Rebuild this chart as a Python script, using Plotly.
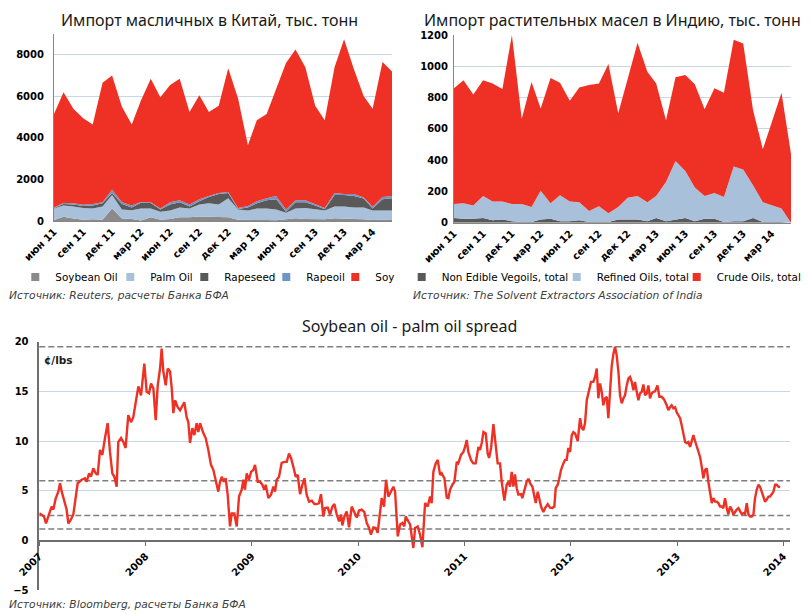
import plotly.graph_objects as go
import pandas as pd

# ---------------- data ----------------
months = pd.date_range("2011-06-01", periods=36, freq="MS")
tick_months = pd.date_range("2011-06-01", periods=12, freq="3MS")
tick_text = ["июн 11", "сен 11", "дек 11", "мар 12", "июн 12", "сен 12",
             "дек 12", "мар 13", "июн 13", "сен 13", "дек 13", "мар 14"]

# China imports, thousand tonnes (stack order bottom -> top)
china_soybean_oil = [50, 200, 120, 60, 80, 60, 600, 120, 100, 20, 180, 60,
                     100, 180, 180, 220, 200, 180, 180, 60, 40, 50, 50, 40,
                     80, 130, 100, 80, 80, 130, 100, 100, 80, 50, 60, 50]
china_palm_oil = [550, 550, 580, 560, 520, 640, 650, 430, 420, 580, 420, 390,
                  400, 470, 420, 580, 650, 620, 920, 490, 460, 550, 550, 510,
                  320, 470, 520, 470, 420, 570, 600, 550, 570, 450, 440, 450]
china_rapeseed = [20, 70, 100, 100, 150, 150, 100, 270, 130, 280, 270, 100,
                  300, 250, 100, 150, 300, 500, 250, 30, 150, 250, 400, 500,
                  50, 300, 280, 200, 60, 550, 550, 550, 430, 100, 550, 600]
china_rapeoil = [30, 50, 50, 60, 70, 50, 150, 80, 100, 40, 30, 50,
                 100, 100, 100, 100, 50, 50, 50, 40, 70, 100, 100, 150,
                 100, 100, 100, 50, 60, 100, 50, 100, 50, 80, 100, 100]
china_soy = [4500, 5330, 4550, 4170, 3830, 5750, 5500, 4600, 3900, 4880, 5950, 5350,
             5650, 5850, 4450, 5000, 4050, 4200, 5950, 5280, 2930, 3900, 4050, 5200,
             7050, 7250, 6400, 4750, 4230, 6050, 7450, 6000, 4870, 4720, 6500, 6000]

# India vegetable oil imports, thousand tonnes
india_non_edible = [30, 25, 25, 30, 15, 20, 10, 5, 5, 20, 25, 10,
                    10, 15, 5, 5, 5, 20, 20, 20, 10, 30, 10, 20,
                    30, 10, 25, 25, 5, 10, 10, 30, 5, 5, 5, 0]
india_refined = [90, 100, 85, 140, 120, 115, 110, 115, 95, 185, 100, 165,
                 125, 115, 70, 100, 55, 80, 140, 150, 120, 140, 250, 375,
                 300, 215, 145, 165, 160, 350, 330, 210, 125, 105, 85, 0]
india_crude = [740, 785, 710, 740, 755, 720, 1080, 545, 800, 525, 800, 720,
               645, 735, 805, 785, 955, 600, 760, 980, 835, 720, 395, 535,
               615, 660, 555, 670, 665, 810, 805, 480, 340, 530, 740, 440]

# Soybean oil - palm oil spread, c/lbs; time in years since 2007-01-01
spread_years = [
    0.000, 0.022, 0.044, 0.063, 0.085, 0.116, 0.132, 0.154, 0.179, 0.195,
    0.211, 0.236, 0.257, 0.273, 0.298, 0.320, 0.342, 0.361, 0.399, 0.430,
    0.446, 0.468, 0.486, 0.508, 0.530, 0.549, 0.571, 0.593, 0.618, 0.643,
    0.665, 0.687, 0.706, 0.728, 0.743, 0.769, 0.791, 0.812, 0.837, 0.863,
    0.884, 0.906, 0.932, 0.957, 0.988, 1.010, 1.032, 1.051, 1.073, 1.095,
    1.114, 1.136, 1.151, 1.167, 1.189, 1.208, 1.230, 1.246, 1.261, 1.277,
    1.302, 1.324, 1.339, 1.364, 1.386, 1.402, 1.418, 1.440, 1.459, 1.480,
    1.496, 1.512, 1.543, 1.565, 1.590, 1.615, 1.637, 1.659, 1.684, 1.700,
    1.716, 1.737, 1.753, 1.772,
    1.794, 1.810, 1.835, 1.857, 1.879, 1.904, 1.920, 1.935, 1.951, 1.973,
    1.992, 2.014, 2.029, 2.055, 2.076, 2.098, 2.117, 2.130, 2.155, 2.180,
    2.202, 2.218, 2.233, 2.255, 2.280, 2.305, 2.328, 2.349, 2.368, 2.390,
    2.412, 2.431, 2.453, 2.475, 2.494, 2.515, 2.538, 2.563, 2.588, 2.609,
    2.631, 2.650, 2.672, 2.688, 2.713, 2.735, 2.757, 2.776, 2.798, 2.820,
    2.839, 2.851, 2.870, 2.892, 2.914, 2.939, 2.964, 2.986, 3.008, 3.033,
    3.058, 3.080, 3.102, 3.120, 3.143, 3.165, 3.183, 3.205, 3.221, 3.243,
    3.262, 3.284, 3.306, 3.331, 3.347, 3.372, 3.394, 3.416, 3.434, 3.447,
    3.472, 3.488, 3.519,
    3.535, 3.560, 3.582, 3.604, 3.629, 3.654, 3.676, 3.691, 3.707, 3.729,
    3.748, 3.770, 3.785, 3.811, 3.833, 3.848, 3.864, 3.886, 3.905, 3.927,
    3.942, 3.967, 3.989, 4.005, 4.021, 4.036, 4.061, 4.083, 4.105, 4.131,
    4.146, 4.162, 4.178, 4.200, 4.218, 4.231, 4.250, 4.272, 4.294, 4.312,
    4.334, 4.350, 4.375, 4.397, 4.413, 4.428, 4.444, 4.460, 4.475, 4.491,
    4.507, 4.532, 4.544, 4.563, 4.585, 4.601, 4.617, 4.639, 4.657, 4.670,
    4.689, 4.701, 4.720, 4.742, 4.758, 4.783, 4.805, 4.827, 4.845, 4.858,
    4.877, 4.889, 4.908, 4.930, 4.946, 4.961, 4.977, 4.993, 5.009, 5.024,
    5.040, 5.065, 5.087, 5.103, 5.118, 5.134, 5.150, 5.172, 5.190, 5.212,
    5.228, 5.244, 5.259,
    5.275, 5.291, 5.306, 5.322, 5.338, 5.353, 5.369, 5.385, 5.401, 5.416,
    5.432, 5.448, 5.463, 5.479, 5.495, 5.510, 5.526, 5.542, 5.557, 5.573,
    5.589, 5.604, 5.620, 5.636, 5.651, 5.667, 5.683, 5.698, 5.714, 5.730,
    5.745, 5.761, 5.777, 5.793, 5.815, 5.833, 5.855, 5.877, 5.902, 5.918,
    5.934, 5.949, 5.965, 5.981, 5.996, 6.012, 6.028, 6.043, 6.059, 6.075,
    6.090, 6.106, 6.122, 6.137, 6.153, 6.169, 6.185, 6.200, 6.216, 6.232,
    6.247, 6.263, 6.279, 6.294, 6.310, 6.326, 6.341, 6.357, 6.373, 6.388,
    6.404, 6.420, 6.435, 6.451, 6.467, 6.482, 6.498, 6.514, 6.530, 6.545,
    6.561, 6.577, 6.592, 6.608, 6.624, 6.639, 6.655, 6.671, 6.686, 6.702,
    6.718, 6.733, 6.749, 6.765, 6.780, 6.796, 6.812, 6.827, 6.843, 6.859,
    6.874, 6.890, 6.906, 6.922, 6.937, 6.953, 6.969,
]
spread_values = [
    2.74, 2.6, 2.4, 1.7, 2.4, 3.4, 3.1, 4.2, 4.9, 5.75,
    4.9, 3.9, 3.1, 1.7, 2.1, 2.6, 4.2, 5.75, 6.1, 6.25,
    5.9, 6.75, 6.4, 7.25, 6.75, 6.6, 9.1, 8.6, 10.3, 11.8,
    8.9, 6.75, 6.4, 5.4, 9.9, 10.3, 9.9, 9.3, 12.6, 11.9,
    12.4, 13.9, 15.5, 14.6, 17.8, 14.95, 14.8, 15.8, 15.3, 12.1,
    15.6, 17.3, 19.3, 17.0, 15.6, 17.3, 17.0, 15.3, 12.8, 14.1,
    13.4, 13.1, 13.4, 13.9, 12.4, 11.9, 9.8, 11.3, 10.6, 11.8,
    10.9, 11.8, 10.8, 10.3, 9.1, 7.6, 7.1, 5.9, 4.9, 5.9,
    6.4, 5.9, 6.25, 4.6,
    1.4, 2.7, 2.7, 1.4, 4.4, 5.1, 6.1, 5.1, 6.75, 6.1,
    6.9, 7.1, 7.6, 5.9, 5.9, 5.6, 5.1, 5.6, 4.25, 4.6,
    5.4, 4.9, 6.1, 6.4, 7.8, 7.9, 7.9, 8.75, 8.3, 7.4,
    6.4, 6.6, 4.65, 5.6, 6.25, 4.6, 3.9, 4.0, 3.65, 3.65,
    3.75, 4.65, 2.4, 3.25, 3.3, 2.6, 3.4, 3.65, 2.6, 1.9,
    2.6, 1.5, 2.4, 2.9, 1.3, 3.4, 2.9, 2.3, 3.0, 3.1,
    2.85, 1.75, 1.25, 0.57, 1.3, 1.25, 0.75, 2.6, 4.25, 3.4,
    6.1, 4.4, 4.9, 5.4, 4.9, 0.4, 1.6, 1.75, 1.4, 2.4,
    1.9, 1.6, -0.77,
    1.25, 1.4, 0.57, -0.7, 3.75, 3.4, 4.4, 3.75, 6.9, 7.75,
    8.1, 6.6, 6.75, 6.25, 4.3, 4.25, 5.1, 5.6, 5.9, 7.9,
    7.75, 8.6, 8.9, 9.4, 10.1, 8.9, 8.1, 7.75, 7.75, 9.4,
    9.1, 9.8, 10.9, 10.75, 8.75, 8.3, 9.3, 11.7, 9.1, 7.75,
    7.75, 5.9, 4.0, 5.6, 5.9, 5.4, 6.9, 5.4, 6.65, 5.25,
    4.6, 4.65, 4.25, 5.1, 5.9, 6.2, 5.75, 5.4, 4.6, 3.75,
    4.9, 4.25, 3.4, 2.85, 3.25, 3.65, 3.3, 3.25, 3.4, 5.25,
    5.6, 6.1, 7.1, 7.75, 8.1, 8.1, 9.3, 8.9, 10.6, 10.9,
    10.75, 10.0, 12.3, 11.3, 11.1, 11.8, 14.1, 15.1, 15.95, 15.95,
    16.45, 17.3, 14.3,
    15.8, 14.95, 13.6, 14.3, 14.45, 12.3, 14.95, 17.6, 18.8, 19.5,
    18.6, 16.95, 14.6, 13.8, 14.3, 14.6, 15.6, 16.3, 16.45, 15.95,
    15.1, 15.95, 14.95, 14.1, 14.8, 14.95, 15.7, 14.6, 14.8, 15.6,
    14.3, 14.8, 14.95, 15.0, 15.6, 14.45, 14.45, 14.2, 13.6, 13.1,
    13.4, 13.6, 13.3, 13.4, 12.9, 12.6, 12.3, 11.6, 10.75, 9.9,
    9.8, 9.9, 9.4, 9.9, 10.6, 10.0, 9.4, 8.9, 8.4, 7.4,
    6.25, 7.1, 7.25, 5.9, 4.6, 3.75, 4.25, 3.9, 3.9, 3.75,
    3.4, 3.4, 3.25, 4.25, 3.25, 2.6, 3.4, 3.1, 2.6, 2.9,
    3.1, 3.25, 2.9, 2.65, 2.75, 2.65, 3.75, 2.6, 2.4, 2.4,
    2.6, 4.25, 5.1, 5.6, 5.4, 4.9, 4.25, 3.9, 4.1, 4.4,
    4.4, 4.6, 4.9, 5.6, 5.6, 5.4, 5.35,
]
spread_start_year = 2007
spread_levels = [19.5, 6.0, 2.5, 1.15]
spread_year_ticks = [2007, 2008, 2009, 2010, 2011, 2012, 2013, 2014]

# ---------------- styling ----------------
RED = "#EE3124"
LIGHTBLUE = "#A9C0DB"
DARKGRAY = "#595959"
MIDGRAY = "#8A8A8A"
BLUE = "#6E96C5"
GRID = "#C8D6E8"
AXIS = "#868686"
TICKFONT = dict(family="DejaVu Sans", size=10, color="black", weight="bold")
LEGFONT = dict(family="DejaVu Sans", size=10.4, color="black")
TITLEFONT = dict(family="Noto Sans", size=16, color="#1a1a1a")
SRCFONT = dict(family="DejaVu Sans", size=10.7, color="#404040", style="italic")

# the page body has an 8px default margin: lay out in page pixels
OX, OY = 8, 8
W, H = 802, 606


def fx(px):
    return (px - OX) / W


def fy(py):
    return 1 - (py - OY) / H


fig = go.Figure()

# legend item widths (px) chosen to match the reference entry spacing
china_series = [
    ("Soybean Oil", china_soybean_oil, MIDGRAY, 50),
    ("Palm Oil", china_palm_oil, LIGHTBLUE, 29),
    ("Rapeseed", china_rapeseed, DARKGRAY, 37),
    ("Rapeoil", china_rapeoil, BLUE, 24),
    ("Soy", china_soy, RED, 25),
]
for name, vals, col, lw in china_series:
    fig.add_trace(go.Scatter(x=months, y=vals, stackgroup="china", mode="lines",
                             line=dict(width=0, color=col), fillcolor=col,
                             name=name, legendgroup="c_" + name, showlegend=False,
                             xaxis="x", yaxis="y"))
    fig.add_trace(go.Scatter(x=[None], y=[None], mode="markers",
                             marker=dict(symbol="square", size=8, color=col),
                             name=name, legendgroup="c_" + name, legend="legend",
                             legendwidth=lw, xaxis="x", yaxis="y"))

india_series = [
    ("Non Edible Vegoils, total", india_non_edible, DARKGRAY, 110),
    ("Refined Oils, total", india_refined, LIGHTBLUE, 75),
    ("Crude Oils, total", india_crude, RED, 88),
]
for name, vals, col, lw in india_series:
    fig.add_trace(go.Scatter(x=months, y=vals, stackgroup="india", mode="lines",
                             line=dict(width=0, color=col), fillcolor=col,
                             name=name, legendgroup="i_" + name, showlegend=False,
                             xaxis="x2", yaxis="y2"))
    fig.add_trace(go.Scatter(x=[None], y=[None], mode="markers",
                             marker=dict(symbol="square", size=8, color=col),
                             name=name, legendgroup="i_" + name, legend="legend2",
                             legendwidth=lw, xaxis="x2", yaxis="y2"))

fig.add_trace(go.Scatter(x=[spread_start_year + t for t in spread_years], y=spread_values,
                         mode="lines", line=dict(color=RED, width=2.4),
                         name="Soybean oil - palm oil spread", showlegend=False,
                         xaxis="x3", yaxis="y3"))

for lvl in spread_levels:
    fig.add_shape(type="line", xref="x3 domain", yref="y3", x0=0, x1=1, y0=lvl, y1=lvl,
                  line=dict(color="#7F7F7F", width=1.5, dash="6px,3px"), layer="below")

fig.update_layout(
    width=W, height=H, margin=dict(l=0, r=0, t=0, b=0, autoexpand=False),
    paper_bgcolor="white", plot_bgcolor="white",
    xaxis=dict(domain=[fx(54), fx(392)], anchor="y", type="date",
               range=[months[0], months[-1]], tickvals=list(tick_months), ticktext=tick_text,
               tickangle=-45, tickfont=TICKFONT, showgrid=False, showline=True,
               linecolor=AXIS, ticks="", zeroline=False, automargin=False),
    yaxis=dict(domain=[fy(221), fy(34)], anchor="x", range=[0, 9000],
               tickvals=[0, 2000, 4000, 6000, 8000], tickfont=TICKFONT,
               gridcolor=GRID, showline=True, linecolor=AXIS, zeroline=False,
               ticklabelstandoff=7, automargin=False),
    xaxis2=dict(domain=[fx(454), fx(791)], anchor="y2", type="date",
                range=[months[0], months[-1]], tickvals=list(tick_months), ticktext=tick_text,
                tickangle=-45, tickfont=TICKFONT, showgrid=False, showline=True,
                linecolor=AXIS, ticks="", zeroline=False, automargin=False),
    yaxis2=dict(domain=[fy(222.7), fy(35)], anchor="x2", range=[0, 1200],
                tickvals=[0, 200, 400, 600, 800, 1000, 1200], tickfont=TICKFONT,
                gridcolor=GRID, showline=True, linecolor=AXIS, zeroline=False,
                ticklabelstandoff=3, automargin=False),
    xaxis3=dict(domain=[fx(39.3), fx(790)], anchor="free", position=fy(540.7),
                range=[2007, 2014.062], tickvals=spread_year_ticks,
                ticktext=[str(y) for y in spread_year_ticks], tickangle=-45,
                tickfont=TICKFONT, showgrid=False, showline=True, linecolor="#6E6E6E",
                linewidth=1.5, ticks="outside", ticklen=5, tickcolor="#6E6E6E",
                zeroline=False, automargin=False),
    yaxis3=dict(domain=[fy(590), fy(341.7)], anchor="x3", range=[-5, 20],
                tickvals=[-5, 0, 5, 10, 15, 20], tickfont=TICKFONT, gridcolor=GRID,
                showline=True, linecolor="#6E6E6E", linewidth=1.5, zeroline=False,
                ticklabelstandoff=7, automargin=False),
    legend=dict(orientation="h", x=fx(15.3), xanchor="left", y=fy(277), yanchor="middle",
                font=LEGFONT, bgcolor="rgba(0,0,0,0)", itemwidth=30, itemclick=False,
                itemdoubleclick=False),
    legend2=dict(orientation="h", x=fx(401.7), xanchor="left", y=fy(277), yanchor="middle",
                 font=LEGFONT, bgcolor="rgba(0,0,0,0)", itemwidth=30, itemclick=False,
                 itemdoubleclick=False),
    showlegend=True,
)

annotations = [
    dict(text="Импорт масличных в Китай, тыс. тонн", x=fx(209), y=fy(8),
         yanchor="top", borderpad=0, font=TITLEFONT),
    dict(text="Импорт растительных масел в Индию, тыс. тонн", x=fx(612), y=fy(8),
         yanchor="top", borderpad=0, font=TITLEFONT),
    dict(text="Soybean oil - palm oil spread", x=fx(409), y=fy(326), font=TITLEFONT),
    dict(text="Источник: Reuters, расчеты Банка БФА", x=fx(7), y=fy(295),
         xanchor="left", font=SRCFONT),
    dict(text="Источник: The Solvent Extractors Association of India", x=fx(411),
         y=fy(295), xanchor="left", font=SRCFONT),
    dict(text="Источник: Bloomberg, расчеты Банка БФА", x=fx(7), y=fy(604),
         xanchor="left", font=SRCFONT),
    dict(text="¢/lbs", x=fx(42), y=fy(360), xanchor="left",
         font=dict(family="DejaVu Sans", size=10.5, color="#1a1a1a", weight="bold")),
]
for a in annotations:
    a.setdefault("xanchor", "center")
    a.setdefault("yanchor", "middle")
    fig.add_annotation(xref="paper", yref="paper", showarrow=False, **a)

fig.write_html("out.html")
